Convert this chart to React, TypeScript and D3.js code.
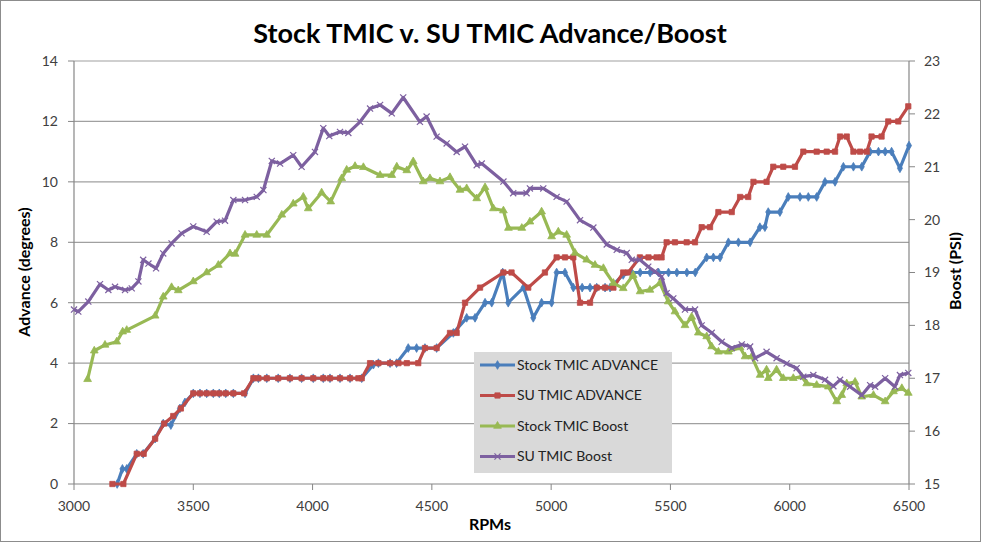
import React from 'react';
import * as d3 from 'd3';

// rpm / value pairs
const stockAdvance: [number, number][] = [
  [3181, 0], [3203, 0.5], [3221, 0.5], [3263, 1], [3290, 1], [3340, 1.5], [3374, 2], [3406, 1.95],
  [3444, 2.5], [3465, 2.7], [3500, 3], [3528, 3], [3556, 3], [3584, 3], [3609, 3], [3636, 3],
  [3668, 3], [3717, 3], [3752, 3.5], [3773, 3.5], [3808, 3.5], [3856, 3.5], [3905, 3.5], [3954, 3.5],
  [4003, 3.5], [4045, 3.5], [4073, 3.5], [4115, 3.5], [4157, 3.5], [4206, 3.5], [4255, 3.95], [4276, 4],
  [4325, 4], [4352, 4], [4401, 4.5], [4436, 4.5], [4471, 4.5], [4520, 4.5], [4590, 5], [4646, 5.5],
  [4681, 5.5], [4723, 6], [4751, 6], [4797, 7], [4820, 6], [4884, 6.5], [4925, 5.5], [4960, 6],
  [5002, 6], [5023, 7], [5058, 7], [5093, 6.5], [5130, 6.5], [5163, 6.5], [5191, 6.5], [5226, 6.5],
  [5247, 6.5], [5302, 6.92], [5338, 7], [5373, 7], [5415, 7], [5450, 7], [5492, 7], [5527, 7],
  [5569, 7], [5604, 7], [5652, 7.5], [5680, 7.5], [5708, 7.5], [5743, 8], [5785, 8], [5834, 8],
  [5875, 8.5], [5896, 8.5], [5910, 9], [5959, 9], [5994, 9.5], [6043, 9.5], [6078, 9.5], [6113, 9.5],
  [6148, 10], [6190, 10], [6225, 10.5], [6267, 10.5], [6302, 10.5], [6337, 11], [6372, 11], [6400, 11],
  [6427, 11], [6462, 10.45], [6500, 11.2],
];

const suAdvance: [number, number][] = [
  [3161, 0], [3207, 0], [3263, 1], [3292, 1], [3340, 1.5], [3378, 2], [3416, 2.25], [3448, 2.5],
  [3500, 3], [3528, 3], [3556, 3], [3584, 3], [3609, 3], [3636, 3], [3668, 3], [3713, 3],
  [3752, 3.5], [3773, 3.5], [3808, 3.5], [3856, 3.5], [3905, 3.5], [3954, 3.5], [4003, 3.5], [4045, 3.5],
  [4073, 3.5], [4115, 3.5], [4157, 3.5], [4192, 3.5], [4206, 3.5], [4241, 4], [4276, 4], [4325, 4],
  [4360, 4], [4395, 4], [4443, 4], [4471, 4.5], [4520, 4.5], [4576, 5], [4604, 5], [4639, 6],
  [4702, 6.5], [4800, 7], [4834, 7], [4904, 6.5], [4974, 7], [5023, 7.5], [5058, 7.5], [5093, 7.5],
  [5121, 6], [5163, 6], [5191, 6.5], [5226, 6.5], [5261, 6.5], [5302, 7], [5323, 7], [5372, 7.5],
  [5408, 7.5], [5442, 7.5], [5463, 7.5], [5484, 8], [5519, 8], [5568, 8], [5603, 8], [5631, 8.5],
  [5666, 8.5], [5701, 9], [5757, 9], [5792, 9.5], [5826, 9.5], [5848, 10], [5903, 10], [5931, 10.5],
  [5973, 10.5], [6022, 10.5], [6057, 11], [6113, 11], [6155, 11], [6190, 11], [6211, 11.5], [6239, 11.5],
  [6267, 11], [6295, 11], [6323, 11], [6343, 11.5], [6385, 11.5], [6413, 12], [6455, 12], [6497, 12.5],
];

const stockBoost: [number, number][] = [
  [3057, 16.98], [3085, 17.52], [3130, 17.63], [3179, 17.69], [3204, 17.88], [3221, 17.91], [3340, 18.18], [3374, 18.54],
  [3409, 18.72], [3437, 18.66], [3500, 18.83], [3556, 19.0], [3605, 19.14], [3654, 19.36], [3675, 19.35], [3717, 19.71],
  [3766, 19.71], [3808, 19.71], [3871, 20.09], [3919, 20.3], [3961, 20.43], [3982, 20.21], [4038, 20.51], [4076, 20.34],
  [4122, 20.78], [4143, 20.94], [4178, 21.01], [4213, 20.99], [4283, 20.84], [4332, 20.84], [4353, 21.0], [4395, 20.93],
  [4422, 21.1], [4464, 20.72], [4492, 20.78], [4534, 20.72], [4576, 20.8], [4618, 20.56], [4646, 20.59], [4688, 20.4],
  [4723, 20.61], [4758, 20.21], [4800, 20.17], [4821, 19.84], [4877, 19.84], [4911, 19.96], [4960, 20.15], [5002, 19.68],
  [5030, 19.77], [5065, 19.71], [5100, 19.37], [5149, 19.24], [5184, 19.14], [5219, 19.08], [5261, 18.8], [5302, 18.7],
  [5344, 18.95], [5373, 18.64], [5414, 18.67], [5456, 18.8], [5491, 18.45], [5519, 18.26], [5561, 18.0], [5589, 18.16],
  [5617, 17.86], [5652, 17.79], [5673, 17.6], [5701, 17.5], [5743, 17.5], [5792, 17.58], [5813, 17.41], [5841, 17.41],
  [5876, 17.06], [5903, 17.16], [5910, 17.0], [5945, 17.16], [5973, 17.0], [6015, 17.0], [6050, 17.03], [6071, 16.9],
  [6113, 16.87], [6162, 16.84], [6197, 16.56], [6218, 16.68], [6239, 16.9], [6274, 16.93], [6302, 16.65], [6351, 16.68],
  [6400, 16.56], [6435, 16.75], [6470, 16.81], [6497, 16.72],
];

const suBoost: [number, number][] = [
  [3000, 18.3], [3018, 18.26], [3060, 18.45], [3109, 18.78], [3144, 18.67], [3172, 18.73], [3214, 18.67], [3242, 18.7],
  [3270, 18.83], [3290, 19.24], [3312, 19.17], [3344, 19.08], [3374, 19.36], [3409, 19.55], [3451, 19.74], [3500, 19.87],
  [3556, 19.77], [3598, 19.96], [3633, 19.98], [3668, 20.37], [3717, 20.37], [3766, 20.43], [3794, 20.56], [3829, 21.11],
  [3864, 21.06], [3919, 21.22], [3954, 21.0], [4010, 21.28], [4045, 21.73], [4070, 21.58], [4115, 21.66], [4150, 21.64],
  [4199, 21.85], [4241, 22.1], [4283, 22.17], [4332, 22.01], [4380, 22.31], [4450, 21.85], [4478, 21.95], [4520, 21.57],
  [4562, 21.44], [4604, 21.28], [4639, 21.38], [4688, 21.03], [4709, 21.06], [4800, 20.72], [4841, 20.5], [4897, 20.5],
  [4911, 20.59], [4967, 20.59], [5023, 20.43], [5065, 20.34], [5121, 19.99], [5177, 19.85], [5233, 19.53], [5275, 19.43],
  [5317, 19.37], [5338, 19.24], [5372, 19.24], [5407, 19.11], [5435, 19.02], [5463, 18.92], [5484, 18.61], [5512, 18.51],
  [5561, 18.3], [5603, 18.3], [5631, 18.0], [5673, 17.86], [5715, 17.69], [5757, 17.57], [5799, 17.64], [5834, 17.6],
  [5855, 17.38], [5903, 17.5], [5945, 17.38], [5987, 17.28], [6029, 17.19], [6057, 17.03], [6099, 17.06], [6148, 16.97],
  [6183, 16.85], [6211, 16.97], [6253, 16.84], [6302, 16.68], [6337, 16.87], [6358, 16.84], [6400, 17.0], [6441, 16.84],
  [6462, 17.06], [6497, 17.1],
];

const rpmTicks = [3000, 3500, 4000, 4500, 5000, 5500, 6000, 6500];
const advanceTicks = [0, 2, 4, 6, 8, 10, 12, 14];
const boostTicks = [15, 16, 17, 18, 19, 20, 21, 22, 23];

const seriesNames = ['Stock TMIC ADVANCE', 'SU TMIC ADVANCE', 'Stock TMIC Boost', 'SU TMIC Boost'];

const W = 981, H = 542;
const left = 74, right = 909, top = 61, bottom = 484;
const font = 'Lato, "Open Sans", sans-serif';

const x = d3.scaleLinear().domain([3000, 6500]).range([left, right]);
const yL = d3.scaleLinear().domain([0, 14]).range([bottom, top]);
const yR = d3.scaleLinear().domain([15, 23]).range([bottom, top]);

const series = [
  { name: seriesNames[0], data: stockAdvance, y: yL, color: '#4a7ebb', sym: d3.symbolDiamond, size: 22 },
  { name: seriesNames[1], data: suAdvance, y: yL, color: '#be4b48', sym: d3.symbolSquare, size: 28 },
  { name: seriesNames[2], data: stockBoost, y: yR, color: '#98b954', sym: d3.symbolTriangle, size: 26 },
  { name: seriesNames[3], data: suBoost, y: yR, color: '#7d60a0', sym: d3.symbolTimes, size: 26 },
];

const Marker = ({ sym, size, color, cx, cy }: any) => {
  const d = d3.symbol().type(sym).size(size)() || '';
  const isX = sym === d3.symbolTimes;
  return (
    <path d={d} transform={`translate(${cx},${cy})`}
      fill={isX ? 'none' : color} stroke={color} strokeWidth={isX ? 1.2 : 0.8} />
  );
};

export default function App() {
  return (
    <svg width={W} height={H} style={{ position: 'absolute', left: 0, top: 0, background: '#fff' }}>
      <rect x={0.5} y={0.5} width={W - 1} height={H - 1} fill="#fff" stroke="#8c8c8c" />
      <text x={490} y={43} textAnchor="middle" fontFamily={font} fontWeight="bold" fontSize={27} fill="#000">
        Stock TMIC v. SU TMIC Advance/Boost
      </text>

      {/* grid lines */}
      {advanceTicks.filter(t => t > 0).map(t => (
        <line key={'g' + t} x1={left} x2={right} y1={yL(t)} y2={yL(t)} stroke="#a0a0a0" strokeWidth={1.2} />
      ))}

      {/* axes */}
      <line x1={left} x2={left} y1={top} y2={bottom} stroke="#868686" strokeWidth={1.2} />
      <line x1={right} x2={right} y1={top} y2={bottom} stroke="#868686" strokeWidth={1.2} />
      <line x1={left} x2={right} y1={bottom} y2={bottom} stroke="#868686" strokeWidth={1.2} />

      {advanceTicks.map(t => (
        <g key={'l' + t}>
          <line x1={left - 6} x2={left} y1={yL(t)} y2={yL(t)} stroke="#868686" />
          <text x={58} y={yL(t)} dy="0.35em" textAnchor="end" fontFamily={font} fontSize={14} fill="#404040">{t}</text>
        </g>
      ))}
      {boostTicks.map(t => (
        <g key={'r' + t}>
          <line x1={right} x2={right + 6} y1={yR(t)} y2={yR(t)} stroke="#868686" />
          <text x={924} y={yR(t)} dy="0.35em" textAnchor="start" fontFamily={font} fontSize={14} fill="#404040">{t}</text>
        </g>
      ))}
      {rpmTicks.map(t => (
        <g key={'b' + t}>
          <line x1={x(t)} x2={x(t)} y1={bottom} y2={bottom + 6} stroke="#868686" />
          <text x={x(t)} y={506} dy="0.35em" textAnchor="middle" fontFamily={font} fontSize={14} fill="#404040">{t}</text>
        </g>
      ))}

      <text x={490} y={530} textAnchor="middle" fontFamily={font} fontWeight="bold" fontSize={16}>RPMs</text>
      <text transform="translate(30,272) rotate(-90)" textAnchor="middle" fontFamily={font} fontWeight="bold" fontSize={16}>
        Advance (degrees)
      </text>
      <text transform="translate(961,271) rotate(-90)" textAnchor="middle" fontFamily={font} fontWeight="bold" fontSize={16}>
        Boost (PSI)
      </text>

      {/* series */}
      {series.map(s => {
        const line = d3.line<[number, number]>().x(d => x(d[0])).y(d => s.y(d[1]));
        return (
          <g key={s.name}>
            <path d={line(s.data) || ''} fill="none" stroke={s.color} strokeWidth={3.2} strokeLinejoin="round" />
            {s.data.map((d, i) => (
              <Marker key={i} sym={s.sym} size={s.size} color={s.color} cx={x(d[0])} cy={s.y(d[1])} />
            ))}
          </g>
        );
      })}

      {/* legend */}
      <g>
        <rect x={474} y={352} width={198} height={121} fill="#d9d9d9" />
        {series.map((s, i) => {
          const ly = 365 + i * 30.5;
          return (
            <g key={'lg' + s.name}>
              <line x1={480} x2={515} y1={ly} y2={ly} stroke={s.color} strokeWidth={3} />
              <Marker sym={s.sym} size={s.size} color={s.color} cx={497.5} cy={ly} />
              <text x={517} y={ly} dy="0.35em" fontFamily={font} fontSize={14} fill="#222">{s.name}</text>
            </g>
          );
        })}
      </g>
    </svg>
  );
}
